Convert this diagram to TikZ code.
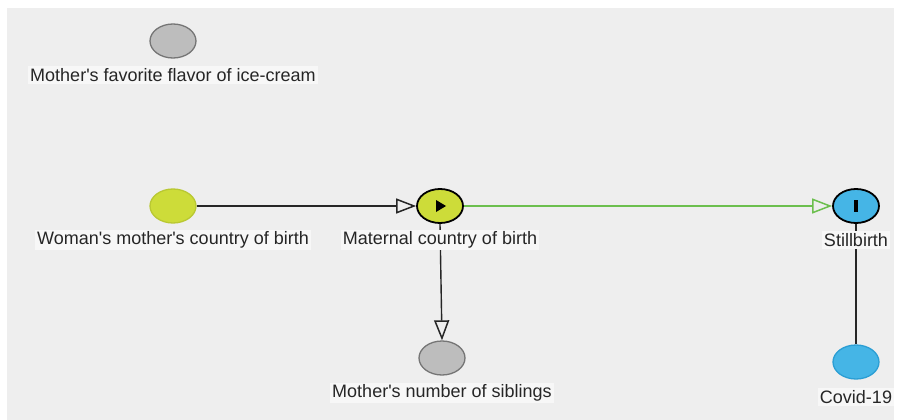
\documentclass[tikz,border=0pt]{standalone}
\usepackage{fontspec}
\setmainfont{Liberation Sans}
\usetikzlibrary{arrows.meta,shapes.geometric,calc}
\definecolor{panel}{HTML}{EEEEEE}
\definecolor{lblbg}{HTML}{F7F7F7}
\definecolor{greyfill}{HTML}{BDBDBD}
\definecolor{greyline}{HTML}{757575}
\definecolor{lime}{HTML}{CDDC39}
\definecolor{limeline}{HTML}{B9C832}
\definecolor{skyblue}{HTML}{45B5E6}
\definecolor{skyline}{HTML}{2B9ED4}
\definecolor{edgegreen}{HTML}{6CBF4E}
\newcommand{\aq}{\textquotesingle}
\tikzset{
  x=1pt, y=-1pt,
  varnode/.style={ellipse, minimum width=46pt, minimum height=34pt, inner sep=0pt, line width=1.3pt},
  greynode/.style={varnode, fill=greyfill, draw=greyline},
  limenode/.style={varnode, fill=lime, draw=limeline},
  exponode/.style={varnode, fill=lime, draw=black, line width=1.8pt},
  outnode/.style={varnode, fill=skyblue, draw=black, line width=1.8pt},
  bluenode/.style={varnode, fill=skyblue, draw=skyline},
  lbl/.style={fill=lblbg, inner xsep=2pt, inner ysep=2pt, font=\fontsize{18}{20}\selectfont, text=black!85},
  arr/.style={line width=1.4pt, -{Triangle[open, length=20pt, width=15pt, line width=1.5pt]}},
}
\begin{document}
\begin{tikzpicture}
\useasboundingbox (0,0) rectangle (897,420);
\fill[white] (0,0) rectangle (897,420);
\fill[panel] (7,8) rectangle (894,420);

\node[greynode] (ice) at (173,41) {};
\node[limenode] (wm) at (173,206) {};
\node[exponode] (mc) at (440,206) {};
\node[outnode] (sb) at (856,206) {};
\node[bluenode] (cv) at (856,362) {};
\node[greynode] (sib) at (442,358) {};

\draw[arr, black!85] (wm) -- (mc);
\draw[arr, edgegreen] (mc) -- (sb);
\draw[arr, black!85] (mc.south) -- (sib.north);
\draw[line width=1.4pt, black!85] (sb.south) -- (cv.north);

\fill[black] ($(mc)+(-4,-6)$) -- ($(mc)+(6,0)$) -- ($(mc)+(-4,6)$) -- cycle;
\fill[black] ($(sb)+(-2,-6)$) rectangle ($(sb)+(2,6)$);

\node[lbl] (icel) at (173,75) {Mother\aq s favorite flavor of ice-cream};
\node[lbl] (wml) at (173,240) {Woman\aq s mother\aq s country of birth};
\node[lbl] (mcl) at (440,240) {Maternal country of birth};
\node[lbl] (sbl) at (856,240) {Stillbirth};
\node[lbl] (cvl) at (856,397) {Covid-19};
\node[lbl] (sibl) at (442,393) {Mother\aq s number of siblings};
\end{tikzpicture}
\end{document}
